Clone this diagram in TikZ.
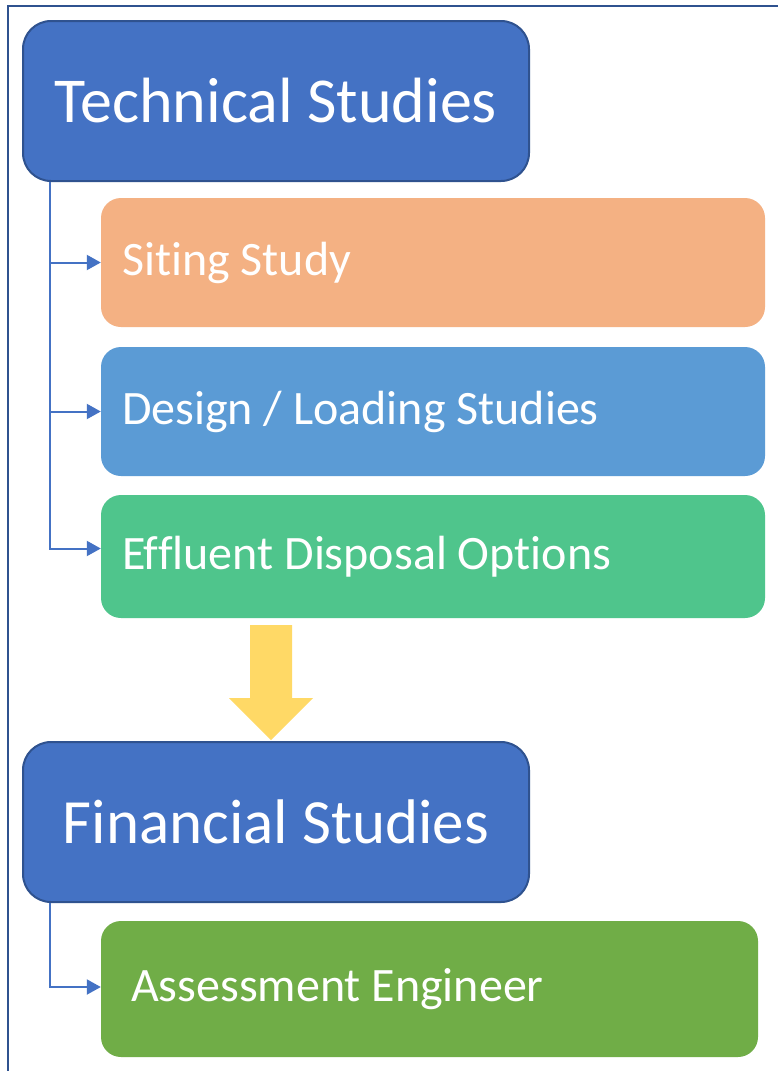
\documentclass[tikz,border=0pt]{standalone}
\usepackage{fontspec}
\setmainfont{Carlito}[Ligatures={NoCommon}]
\usetikzlibrary{arrows.meta,calc}
\definecolor{headblue}{HTML}{4472C4}
\definecolor{headedge}{HTML}{2F528F}
\definecolor{sitecol}{HTML}{F4B183}
\definecolor{designcol}{HTML}{5B9BD5}
\definecolor{effcol}{HTML}{4FC58C}
\definecolor{assesscol}{HTML}{70AD47}
\definecolor{arrowyellow}{HTML}{FFD966}
\tikzset{
  headbox/.style={draw=headedge, line width=2pt, fill=headblue, rounded corners=28pt,
    minimum width=506pt, minimum height=160pt, text=white, inner sep=0pt},
  subbox/.style={rounded corners=20pt, inner sep=0pt},
  subtext/.style={text=white, anchor=west, inner sep=0pt, font=\fontsize{48}{56}\selectfont},
  link/.style={draw=headblue, line width=2pt, -{Triangle[length=14pt,width=15pt]}},
}
\begin{document}
\begin{tikzpicture}[x=1pt,y=-1pt]
\useasboundingbox (0,0) rectangle (778,1071);
\fill[white] (0,0) rectangle (778,1071);
% frame
\draw[headedge, line width=2pt] (8,1072) -- (8,6) -- (779,6);
% nodes
\node[headbox, font=\fontsize{64}{70}\selectfont] (tech) at (276,101) {Technical Studies};
\node[subbox, fill=sitecol, minimum width=664pt, minimum height=129pt] (site) at (433,262.5) {};
\node[subtext] (sitet) at ([xshift=21pt]site.west) {Siting Study};
\node[subbox, fill=designcol, minimum width=664pt, minimum height=129pt] (design) at (433,411.5) {};
\node[subtext] (designt) at ([xshift=21pt]design.west) {Design / Loading Studies};
\node[subbox, fill=effcol, minimum width=664pt, minimum height=123pt] (eff) at (433,556.5) {};
\node[subtext] (efft) at ([xshift=21pt]eff.west) {Effluent Disposal Options};
\node[headbox, font=\fontsize{63}{70}\selectfont] (fin) at (276,822) {Financial Studies};
\node[subbox, fill=assesscol, minimum width=657pt, minimum height=136pt] (assess) at (429.5,989) {};
\node[subtext] (assesst) at ([xshift=30pt]assess.west) {Assessment Engineer};
% connectors
\coordinate (tb) at ($(tech.south west)+(28,0)$);
\coordinate (fb) at ($(fin.south west)+(28,0)$);
\draw[link] (tb) |- (site.west);
\draw[link] (tb) |- (design.west);
\draw[link] (tb) |- ([yshift=8pt]eff.west);
\draw[link] (fb) |- ([yshift=2pt]assess.west);
% big yellow arrow
\fill[arrowyellow] (250,625) -- (292,625) -- (292,698) -- (313,698) -- (271,740) -- (229,698) -- (250,698) -- cycle;
\end{tikzpicture}
\end{document}
